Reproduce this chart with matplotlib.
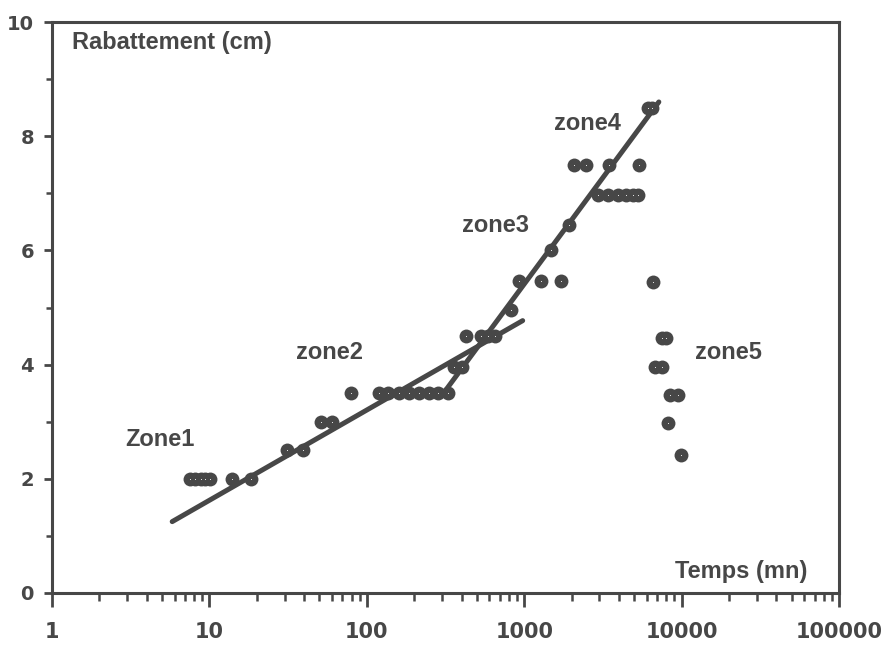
import matplotlib.pyplot as plt
from matplotlib.ticker import FixedLocator, NullFormatter

plt.rcParams['font.family'] = ['Liberation Sans', 'DejaVu Sans']

# Temps (mn) / Rabattement (cm)
temps = [7.5, 8.1, 8.8, 9.4, 10.1, 14, 18.5,
         31, 39.5, 51, 60, 79,
         119, 137, 159, 184, 213, 247, 285, 326,
         356, 405, 424, 528, 585, 649, 819,
         921, 1271, 1706, 1472, 1915,
         2930, 3397, 3928, 4416, 4895, 5265,
         2062, 2459, 3442, 5344, 6100, 6500,
         6560, 7500, 7900, 6800, 7500, 8450, 9480, 8170, 9890]
rabat = [2, 2, 2, 2, 2, 2, 2,
         2.5, 2.5, 3, 3, 3.5,
         3.5, 3.5, 3.5, 3.5, 3.5, 3.5, 3.5, 3.5,
         3.95, 3.95, 4.5, 4.5, 4.5, 4.5, 4.95,
         5.47, 5.47, 5.47, 6.0, 6.45,
         6.97, 6.97, 6.97, 6.97, 6.97, 6.97,
         7.5, 7.5, 7.5, 7.5, 8.5, 8.5,
         5.45, 4.46, 4.46, 3.95, 3.95, 3.47, 3.47, 2.98, 2.42]

# fitted lines
fit1_x = [5.8, 977]
fit1_y = [1.25, 4.77]
fit2_x = [307, 7160]
fit2_y = [3.5, 8.6]

zones = ["Zone1", "zone2", "zone3", "zone4", "zone5"]
zone_x = [2.91, 35.7, 405, 1538, 12130]
zone_y = [2.68, 4.22, 6.44, 8.23, 4.22]

ink = '#474747'

fig = plt.figure(figsize=(8.85, 6.48), dpi=100)
ax = fig.add_axes([0.0588, 0.0849, 0.8893, 0.8811])

ax.plot(fit1_x, fit1_y, color=ink, lw=3.6, solid_capstyle='round')
ax.plot(fit2_x, fit2_y, color=ink, lw=3.6, solid_capstyle='round')
ax.plot(temps, rabat, 'o', color=ink, ms=10, mew=0)
ax.plot(temps, rabat, '.', color='white', ms=1.5, mew=0)

for name, zx, zy in zip(zones, zone_x, zone_y):
    ax.text(zx, zy, name, ha='left', va='center', fontsize=17,
            fontweight='bold', color=ink)

ax.text(1.34, 9.65, "Rabattement (cm)", ha='left', va='center', fontsize=17,
        fontweight='bold', color=ink)
ax.text(9060, 0.37, "Temps (mn)", ha='left', va='center', fontsize=17,
        fontweight='bold', color=ink)

ax.set_xscale('log')
ax.set_xlim(1, 100000)
ax.set_ylim(0, 10)
ax.set_xticks([1, 10, 100, 1000, 10000, 100000])
ax.set_xticklabels(["1", "10", "100", "1000", "10000", "100000"])
ax.set_yticks([0, 2, 4, 6, 8, 10])
ax.yaxis.set_minor_locator(FixedLocator([1, 3, 5, 7, 9]))
ax.xaxis.set_minor_formatter(NullFormatter())

for s in ax.spines.values():
    s.set_linewidth(2.2)
    s.set_color(ink)
ax.tick_params(axis='x', which='major', length=10, width=2, color=ink,
               labelsize=15, labelcolor=ink, direction='out', pad=11)
ax.tick_params(axis='x', which='minor', length=6, width=1.8, color=ink,
               direction='out')
ax.tick_params(axis='y', which='major', length=6, width=2, color=ink,
               labelsize=14, labelcolor=ink, direction='out', pad=7)
ax.tick_params(axis='y', which='minor', length=4, width=1.8, color=ink,
               direction='out')
for lab in ax.get_xticklabels() + ax.get_yticklabels():
    lab.set_family('DejaVu Sans')
    lab.set_fontweight('bold')

fig.savefig("out.png", dpi=100)
